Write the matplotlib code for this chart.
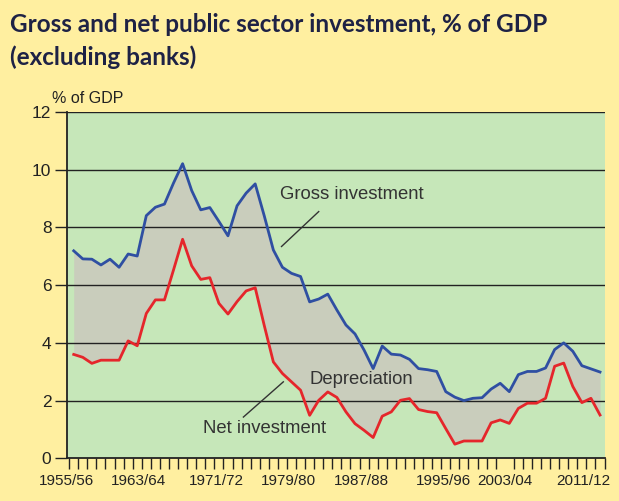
import matplotlib
matplotlib.use("Agg")
import matplotlib.pyplot as plt
import numpy as np

years = [f"{y}/{str(y+1)[-2:]}" for y in range(1955, 2014)]
gross = [7.19, 6.91, 6.90, 6.70, 6.90, 6.62, 7.08, 7.01, 8.41, 8.70,
         8.81, 9.54, 10.21, 9.28, 8.61, 8.69, 8.21, 7.71, 8.75, 9.19,
         9.51, 8.40, 7.22, 6.62, 6.41, 6.30, 5.42, 5.52, 5.69, 5.14,
         4.62, 4.31, 3.75, 3.11, 3.89, 3.61, 3.58, 3.43, 3.11, 3.07,
         3.01, 2.31, 2.12, 2.00, 2.08, 2.10, 2.40, 2.60, 2.31, 2.90,
         3.01, 3.01, 3.13, 3.77, 4.00, 3.71, 3.21, 3.10, 2.99]
net = [3.60, 3.50, 3.29, 3.40, 3.40, 3.40, 4.07, 3.90, 5.02, 5.49,
       5.49, 6.53, 7.59, 6.67, 6.20, 6.26, 5.37, 5.00, 5.43, 5.80,
       5.91, 4.60, 3.34, 2.94, 2.65, 2.36, 1.49, 2.01, 2.30, 2.11,
       1.61, 1.20, 0.97, 0.72, 1.46, 1.61, 2.01, 2.07, 1.69, 1.62,
       1.58, 1.03, 0.49, 0.60, 0.60, 0.60, 1.23, 1.33, 1.21, 1.73,
       1.91, 1.91, 2.08, 3.19, 3.30, 2.49, 1.93, 2.08, 1.50]
xlabels = ["1955/56", "1963/64", "1971/72", "1979/80", "1987/88",
           "1995/96", "2003/04", "2011/12"]
# label placement offsets (in years) as laid out in the original
xlabel_shift = [-0.77, -0.9, -0.25, -0.3, -0.3, 0.7, -0.5, 0.2]
yticks = [0, 2, 4, 6, 8, 10, 12]

BG = "#FFEFA0"
GREEN = "#C6E7B9"
GREY = "#C9CDBC"
BLUE = "#2F4FA2"
RED = "#E5262B"
DARK = "#222222"

plt.rcParams['font.family'] = ['Liberation Sans', 'DejaVu Sans']

fig = plt.figure(figsize=(6.19, 5.01), dpi=100, facecolor=BG)
ax = fig.add_axes([0.1078, 0.0852, 0.8696, 0.6912])
ax.set_facecolor(GREEN)

x = np.arange(len(years))
ax.fill_between(x, net, gross, color=GREY, lw=0, zorder=1)
for v in yticks[1:]:
    ax.axhline(v, color=DARK, lw=1.0, zorder=2)
ax.plot(x, gross, color=BLUE, lw=2.0, zorder=3)
ax.plot(x, net, color=RED, lw=2.0, zorder=3)

ax.set_xlim(-0.47, 58.55)
ax.set_ylim(0, 12)

for s in ['top', 'right']:
    ax.spines[s].set_visible(False)
for s in ['left', 'bottom']:
    ax.spines[s].set_color(DARK)
    ax.spines[s].set_linewidth(1.3)

ax.set_yticks(yticks)
ax.set_yticklabels([str(v) for v in yticks], fontsize=12.5, color=DARK)
ax.tick_params(axis='y', length=9, width=1.0, color=DARK, pad=2)

ax.set_xticks(np.arange(-0.5, 59.0, 1.0), minor=True)
ax.set_xticks([years.index(l) + s for l, s in zip(xlabels, xlabel_shift)])
ax.set_xticklabels(xlabels, fontsize=11, color=DARK)
ax.tick_params(axis='x', which='major', length=0, pad=11)
ax.tick_params(axis='x', which='minor', length=8, width=1.0, color=DARK)

fig.text(52/619, 1 - 98/501, "% of GDP", fontsize=11.5, color=DARK,
         va='center', ha='left')

title_kw = dict(fontsize=17.5, fontweight='bold', color="#1E2245",
                family=['Lato', 'DejaVu Sans'], va='center', ha='left')
fig.text(10/619, 1 - 24/501, "Gross and net public sector investment, % of GDP", **title_kw)
fig.text(10/619, 1 - 57/501, "(excluding banks)", **title_kw)

ax.text(30.6, 9.14, "Gross investment", fontsize=13.3, color="#333333",
        ha='center', va='center', zorder=4)
ax.plot([22.9, 27.0], [7.34, 8.55], color="#333333", lw=1.0, zorder=4)
ax.text(31.7, 2.72, "Depreciation", fontsize=13.3, color="#333333",
        ha='center', va='center', zorder=4)
ax.text(21.0, 1.05, "Net investment", fontsize=13.3, color="#333333",
        ha='center', va='center', zorder=4)
ax.plot([18.7, 23.1], [1.43, 2.65], color="#333333", lw=1.0, zorder=4)

fig.savefig("out.png", dpi=100, facecolor=BG)
